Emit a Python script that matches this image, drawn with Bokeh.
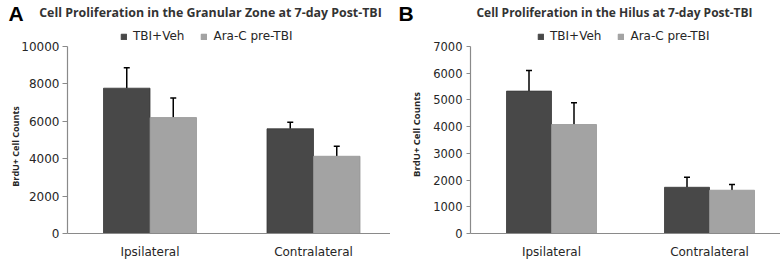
import math
from bokeh.plotting import figure
from bokeh.models import (ColumnDataSource, Label, Legend, LegendItem, FixedTicker,
                          Whisker, TeeHead, Range1d, LinearAxis)
from bokeh.layouts import row
from bokeh.embed import file_html
from bokeh.resources import INLINE

# ---- data ----
categories = ["Ipsilateral", "Contralateral"]
series_names = ["TBI+Veh", "Ara-C pre-TBI"]

gz_veh = [7770, 5600]
gz_veh_err = [1090, 350]
gz_arac = [6200, 4130]
gz_arac_err = [1040, 540]

hil_veh = [5330, 1730]
hil_veh_err = [770, 380]
hil_arac = [4080, 1620]
hil_arac_err = [810, 215]

title_a = "Cell Proliferation in the Granular Zone at 7-day Post-TBI"
title_b = "Cell Proliferation in the Hilus at 7-day Post-TBI"
y_title = "BrdU+ Cell Counts"
ticks_a = [0, 2000, 4000, 6000, 8000, 10000]
ticks_b = [0, 1000, 2000, 3000, 4000, 5000, 6000, 7000]

DARK = "#484848"
LIGHT = "#a3a3a3"
AXIS = "#8a8a8a"
TXT = "#262626"

W, H = 390, 261
Y0_PX, YTOP_PX = 233.0, 46.0      # pixel rows (from top) of value 0 and of the axis max


def panel(letter, title, veh, veh_err, arac, arac_err, ymax, ticks,
          yaxis_px, c0_px, c1_px, bw_px, title_px, title_size, legend_px,
          ytitle_px, ytitle_py, ytitle_size, tick_size, tick_out, tick_standoff):
    # linear scales so that the frame covers the whole canvas
    ppu_y = (Y0_PX - YTOP_PX) / ymax
    y_start = -(H - Y0_PX) / ppu_y
    y_end = ymax + YTOP_PX / ppu_y
    ppu_x = c1_px - c0_px
    x_start = 0.5 - c0_px / ppu_x
    x_end = x_start + W / ppu_x
    yaxis_x = x_start + yaxis_px / ppu_x
    bw = bw_px / ppu_x

    p = figure(width=W, height=H, output_backend="svg", toolbar_location=None,
               x_range=Range1d(x_start, x_end), y_range=Range1d(y_start, y_end),
               min_border=0, x_axis_type=None, y_axis_type=None)
    p.outline_line_color = None
    p.grid.visible = False
    p.background_fill_color = "white"

    n = len(categories)
    xc = [i + 0.5 for i in range(n)]
    src = ColumnDataSource(dict(
        x1=[x - bw / 2 for x in xc], x2=[x + bw / 2 for x in xc],
        veh=veh, arac=arac,
        veh_up=[v + e for v, e in zip(veh, veh_err)],
        arac_up=[v + e for v, e in zip(arac, arac_err)],
    ))
    r1 = p.vbar(x="x1", top="veh", width=bw, bottom=0, source=src,
                fill_color=DARK, line_color="#383838", line_width=0.8)
    r2 = p.vbar(x="x2", top="arac", width=bw, bottom=0, source=src,
                fill_color=LIGHT, line_color="#969696", line_width=0.8)
    for xs, lo, up in (("x1", "veh", "veh_up"), ("x2", "arac", "arac_up")):
        w = Whisker(base=xs, lower=lo, upper=up, source=src, dimension="height",
                    line_color="black", line_width=1.5,
                    upper_head=TeeHead(size=6, line_color="black", line_width=1.5),
                    lower_head=None)
        p.add_layout(w)

    # x axis (category axis) pinned at y = 0
    xa = LinearAxis(fixed_location=0, bounds=(yaxis_x, x_end),
                    ticker=FixedTicker(ticks=xc),
                    major_label_overrides={x: c for x, c in zip(xc, categories)})
    xa.major_tick_line_color = None
    xa.minor_tick_line_color = None
    xa.axis_line_color = AXIS
    xa.axis_line_width = 1.2
    xa.major_label_text_font = "DejaVu Sans"
    xa.major_label_text_font_size = "12px"
    xa.major_label_text_color = TXT
    xa.major_label_standoff = 5
    p.add_layout(xa, "below")

    # value axis pinned at the left edge of the plotting area
    ya = LinearAxis(fixed_location=yaxis_x, bounds=(0, ymax),
                    ticker=FixedTicker(ticks=ticks))
    ya.major_tick_out = tick_out
    ya.major_tick_in = 0
    ya.minor_tick_line_color = None
    ya.major_tick_line_color = AXIS
    ya.axis_line_color = AXIS
    ya.axis_line_width = 1.2
    ya.major_label_text_font = "DejaVu Sans"
    ya.major_label_text_font_size = tick_size
    ya.major_label_text_color = TXT
    ya.major_label_standoff = tick_standoff
    p.add_layout(ya, "left")

    # y title
    p.add_layout(Label(x=ytitle_px, y=H - ytitle_py, x_units="screen", y_units="screen",
                       text=y_title, angle=math.pi / 2, text_align="center",
                       text_baseline="middle", text_font="Open Sans",
                       text_font_style="bold", text_font_size=ytitle_size,
                       text_color=TXT))
    # title and panel letter
    p.add_layout(Label(x=title_px, y=H - 12, x_units="screen", y_units="screen",
                       text=title, text_align="center", text_baseline="middle",
                       text_font="Open Sans", text_font_style="bold",
                       text_font_size=title_size, text_color="#333333"))
    p.add_layout(Label(x=8, y=H - 13, x_units="screen", y_units="screen",
                       text=letter, text_align="left", text_baseline="middle",
                       text_font="Liberation Sans", text_font_style="bold",
                       text_font_size="21px", text_color="black"))

    legend = Legend(items=[LegendItem(label=series_names[0], renderers=[r1]),
                           LegendItem(label=series_names[1], renderers=[r2])],
                    orientation="horizontal", location=(legend_px, H - 36 - 7),
                    border_line_color=None, background_fill_alpha=0,
                    padding=0, margin=0, spacing=16, label_standoff=6,
                    glyph_width=7, glyph_height=7, label_height=14,
                    label_text_font="DejaVu Sans", label_text_font_size="12px",
                    label_text_color=TXT, label_text_baseline="middle")
    p.add_layout(legend, "center")
    return p


pa = panel("A", title_a, gz_veh, gz_veh_err, gz_arac, gz_arac_err, 10000, ticks_a,
           yaxis_px=67, c0_px=149.5, c1_px=313, bw_px=46.5,
           title_px=210, title_size="12.4px", legend_px=120,
           ytitle_px=15, ytitle_py=146, ytitle_size="9px",
           tick_size="12px", tick_out=5, tick_standoff=3)
pb = panel("B", title_b, hil_veh, hil_veh_err, hil_arac, hil_arac_err, 7000, ticks_b,
           yaxis_px=80, c0_px=161, c1_px=319, bw_px=45,
           title_px=224, title_size="12px", legend_px=147,
           ytitle_px=26, ytitle_py=134, ytitle_size="9.5px",
           tick_size="11.5px", tick_out=4, tick_standoff=4)

layout = row(pa, pb, spacing=0)
open("out.html", "w").write(file_html(layout, INLINE))
